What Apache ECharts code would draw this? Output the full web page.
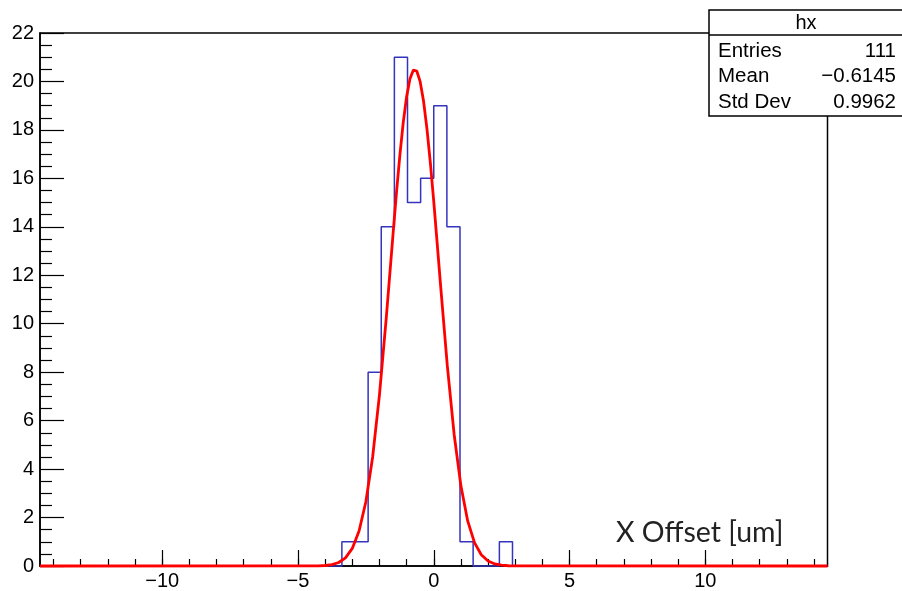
<!DOCTYPE html>
<html><head><meta charset="utf-8">
<script src="https://cdn.jsdelivr.net/npm/echarts@6/dist/echarts.min.js"></script>
<style>html,body{margin:0;padding:0;background:#fff;}#c{width:902px;height:591px;}</style>
</head><body><div id="c"></div>
<script>
// ---- data ----
const xRange = [-14.5, 14.5];
const nBins = 60;
const binCounts = [
  0,0,0,0,0,0,0,0,0,0,0,0,0,0,0,0,0,0,0,0,0,0,0,
  1,1,8,14,21,15,16,19,14,1,0,0,1,
  0,0,0,0,0,0,0,0,0,0,0,0,0,0,0,0,0,0,0,0,0,0,0,0
];
const xMajorTicks = [-10, -5, 0, 5, 10];
const xMinorTicks = [-14,-13,-12,-11,-10,-9,-8,-7,-6,-5,-4,-3,-2,-1,0,1,2,3,4,5,6,7,8,9,10,11,12,13,14];
const yRange = [0, 22];
const yStep = 2;
// fitted gaussian curve
const fitX = [-14.5, -4.5, -4.25, -4.0, -3.75, -3.5, -3.25, -3.0, -2.75, -2.5, -2.25, -2.0, -1.75, -1.5, -1.375, -1.25, -1.125, -1.0, -0.875, -0.75, -0.7, -0.625, -0.5, -0.375, -0.25, -0.125, 0.0, 0.125, 0.25, 0.5, 0.75, 1.0, 1.25, 1.5, 1.75, 2.0, 2.25, 2.5, 2.75, 3.0, 14.5];
const fitY = [0, 0.002, 0.007, 0.021, 0.058, 0.145, 0.338, 0.727, 1.445, 2.652, 4.498, 7.054, 10.22, 13.69, 15.38, 16.93, 18.29, 19.37, 20.11, 20.47, 20.50, 20.43, 19.99, 19.18, 18.04, 16.64, 15.05, 13.34, 11.60, 8.26, 5.44, 3.31, 1.86, 0.966, 0.464, 0.206, 0.084, 0.032, 0.011, 0.003, 0];
const statsTitle = 'hx';
const statsLabels = ['Entries', 'Mean', 'Std Dev'];
const statsValues = ['111', '\u22120.6145', '0.9962'];
const axisTitle = 'X Offset [um]';

// ---- build ----
const binW = (xRange[1] - xRange[0]) / nBins;
const histPts = [[xRange[0], 0]];
binCounts.forEach((c, k) => {
  const a = xRange[0] + k * binW, b = a + binW;
  histPts.push([a, c], [b, c]);
});
histPts.push([xRange[1], 0]);
const fitPts = fitX.map((x, i) => [x, fitY[i]]);

const FONT = '"Liberation Sans", Arial, Helvetica, sans-serif';
const minus = v => String(v).replace('-', '\u2212');

const chart = echarts.init(document.getElementById('c'), null, {renderer: 'canvas'});
const statsChildren = [
  {type: 'rect', shape: {x: 709, y: 10, width: 200, height: 106}, style: {fill: '#fff', stroke: '#000', lineWidth: 1.5}},
  {type: 'line', shape: {x1: 709, y1: 35, x2: 902, y2: 35}, style: {stroke: '#000', lineWidth: 1.5}},
  {type: 'text', x: 806, y: 23, style: {text: statsTitle, font: '20px ' + FONT, fill: '#000', align: 'center', verticalAlign: 'middle'}}
];
statsLabels.forEach((l, i) => {
  const y = 51 + i * 25.5;
  statsChildren.push({type: 'text', x: 718, y: y, style: {text: l, font: '20.5px ' + FONT, fill: '#000', align: 'left', verticalAlign: 'middle'}});
  statsChildren.push({type: 'text', x: 896, y: y, style: {text: statsValues[i], font: '20.5px ' + FONT, fill: '#000', align: 'right', verticalAlign: 'middle'}});
});

chart.setOption({
  animation: false,
  backgroundColor: '#fff',
  grid: {left: 40, right: 74.5, top: 33, bottom: 25, show: true, borderColor: '#000', borderWidth: 1.5, backgroundColor: 'transparent', containLabel: false},
  xAxis: [
    {
      type: 'value', min: xRange[0], max: xRange[1], position: 'bottom',
      axisLine: {show: true, onZero: false, lineStyle: {color: '#000', width: 1.5}},
      axisTick: {show: true, inside: true, length: 16, customValues: xMajorTicks, lineStyle: {color: '#000', width: 1.2}},
      axisLabel: {show: true, customValues: xMajorTicks, margin: 5, color: '#000', fontSize: 20, fontFamily: FONT, formatter: minus},
      splitLine: {show: false}
    },
    {
      type: 'value', min: xRange[0], max: xRange[1], position: 'bottom',
      axisLine: {show: false, onZero: false},
      axisTick: {show: true, inside: true, length: 7, customValues: xMinorTicks, lineStyle: {color: '#000', width: 1.2}},
      axisLabel: {show: false},
      splitLine: {show: false}
    }
  ],
  yAxis: {
    type: 'value', min: yRange[0], max: yRange[1], interval: yStep,
    axisLine: {show: true, onZero: false, lineStyle: {color: '#000', width: 1.5}},
    axisTick: {show: true, inside: true, length: 24, lineStyle: {color: '#000', width: 1.2}},
    minorTick: {show: true, splitNumber: 4, length: 12, lineStyle: {color: '#000', width: 1.2}},
    axisLabel: {margin: 6, color: '#000', fontSize: 20, fontFamily: FONT},
    splitLine: {show: false}
  },
  series: [
    {
      type: 'line', xAxisIndex: 0, data: histPts, symbol: 'none', clip: false,
      lineStyle: {color: '#3434bc', width: 1.5}, z: 3
    },
    {
      type: 'line', xAxisIndex: 0, data: fitPts, symbol: 'none', clip: false,
      lineStyle: {color: '#ff0000', width: 2.8}, z: 4
    }
  ],
  graphic: [
    {type: 'text', left: 616, top: 518, style: {text: axisTitle, font: '28.5px Lato, "Open Sans", sans-serif', fill: '#222'}, z: 10},
    {type: 'group', children: statsChildren, z: 20}
  ]
});
</script></body></html>
